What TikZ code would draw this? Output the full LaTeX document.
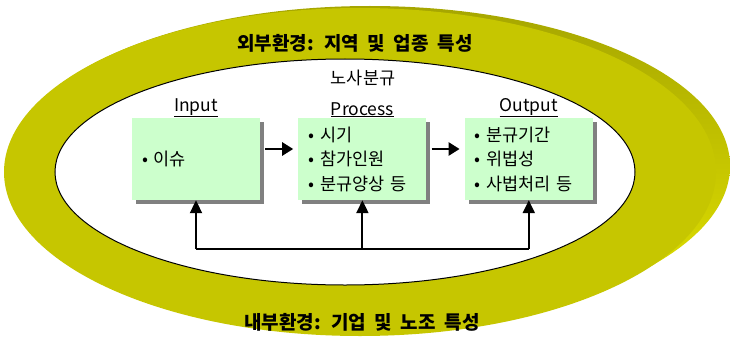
\documentclass[tikz,border=0pt]{standalone}
\usepackage{fontspec}
\setmainfont{Noto Sans CJK KR}[WordSpace=2]
\usepackage{tikz}
\usetikzlibrary{positioning, arrows.meta, shadows}
\definecolor{ringFace}{HTML}{C6C600}
\definecolor{ringDark}{HTML}{A6A600}
\definecolor{ringLight}{HTML}{E6E600}
\definecolor{boxGreen}{HTML}{CCFFCC}
\definecolor{boxShadow}{HTML}{808080}
\tikzstyle{envText} = [font=\fontsize{19}{22}\selectfont\bfseries, text=black]
\tikzstyle{phaseLabel} = [font=\fontsize{17.5}{20}\selectfont, text=black]
\tikzstyle{phaseBox} = [shape=rectangle, fill=boxGreen, text=black,
	minimum width=128pt, minimum height=82pt, text width=108pt, inner xsep=10pt,
	align=left, font=\fontsize{17.5}{24.5}\selectfont,
	drop shadow={shadow xshift=4pt, shadow yshift=-4pt, fill=boxShadow, opacity=1}]
\tikzstyle{flowArrow} = [line width=2.5pt, -{Triangle[length=11pt,width=13pt]}, draw=black]
\tikzstyle{feedArrow} = [line width=2pt, -{Triangle[length=13pt,width=12pt]}, draw=black]

\begin{document}
\begin{tikzpicture}[x=1pt, y=-1pt, node distance=38pt]
  \useasboundingbox (0,0) rectangle (730,337);
  % ring
  \shade[top color=ringDark, bottom color=ringLight] (370,166) ellipse [x radius=360, y radius=160];
  \fill[ringFace] (360,172) ellipse [x radius=356, y radius=164];
  \filldraw[fill=white, draw=black, line width=1pt] (345,172) ellipse [x radius=290, y radius=113];

  \node (outerEnv) at (355,43) [envText] {외부환경: 지역 및 업종 특성};
  \node (innerEnv) at (362,322) [envText] {내부환경: 기업 및 노조 특성};
  \node (dispute) at (363,78) [phaseLabel] {노사분규};

  \node (inBox) at (196,159) [phaseBox] {• 이슈};
  \node (procBox) [phaseBox, right=of inBox] {• 시기\\• 참가인원\\• 분규양상 등};
  \node (outBox) [phaseBox, right=of procBox] {• 분규기간\\• 위법성\\• 사법처리 등};

  \node (inLabel) [phaseLabel, above=-3pt of inBox] {\underline{Input}};
  \node (procLabel) [phaseLabel, above=-3pt of procBox] {\underline{Process}};
  \node (outLabel) [phaseLabel, above=-3pt of outBox] {\underline{Output}};

  \draw [flowArrow, shorten <=5pt, shorten >=5pt] ([yshift=10pt]inBox.east) -- ([yshift=10pt]procBox.west);
  \draw [flowArrow, shorten <=5pt, shorten >=5pt] ([yshift=10pt]procBox.east) -- ([yshift=10pt]outBox.west);

  \coordinate (fbIn) at (inBox.south |- 0,249);
  \coordinate (fbProc) at (procBox.south |- 0,249);
  \coordinate (fbOut) at (outBox.south |- 0,249);
  \draw [line width=1.2pt] (fbIn) -- (fbOut);
  \draw [feedArrow] (fbIn) -- (inBox.south);
  \draw [feedArrow] (fbProc) -- (procBox.south);
  \draw [feedArrow] (fbOut) -- (outBox.south);
\end{tikzpicture}
\end{document}
